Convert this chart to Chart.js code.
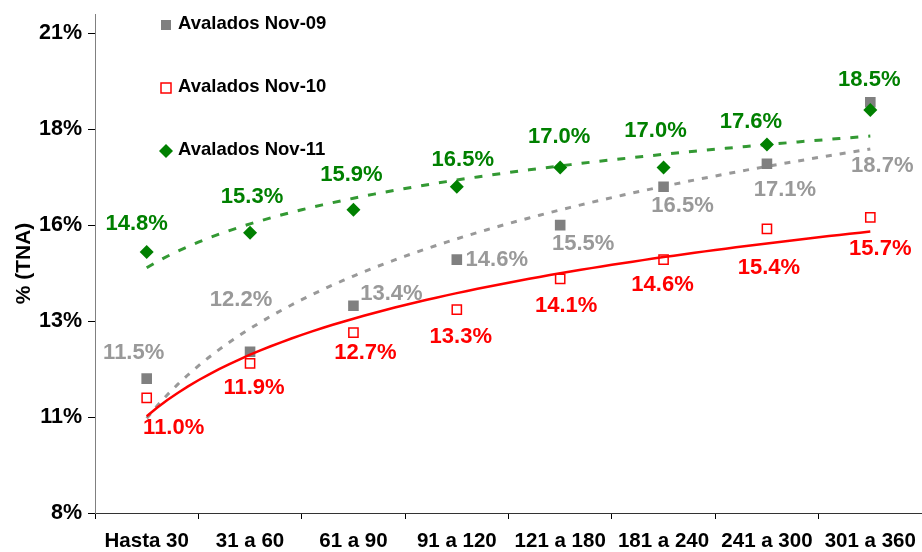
<!DOCTYPE html>
<html>
<head>
<meta charset="utf-8">
<script src="https://cdn.jsdelivr.net/npm/chart.js@4/dist/chart.umd.min.js"></script>
<style>
  html, body { margin: 0; padding: 0; background: #fff; }
  #wrap { width: 922px; height: 552px; }
</style>
</head>
<body>
<div id="wrap"><canvas id="chart-1" width="922" height="552"></canvas></div>
<script>
const plazos = ["Hasta 30", "31 a 60", "61 a 90", "91 a 120", "121 a 180", "181 a 240", "241 a 300", "301 a 360"];
const nov09 = [11.5, 12.2, 13.4, 14.6, 15.5, 16.5, 17.1, 18.7];
const nov10 = [11.0, 11.9, 12.7, 13.3, 14.1, 14.6, 15.4, 15.7];
const nov11 = [14.8, 15.3, 15.9, 16.5, 17.0, 17.0, 17.6, 18.5];
const yTicks = [8, 10.5, 13, 15.5, 18, 20.5];

const FONT = "'Liberation Sans', Arial, sans-serif";
Chart.defaults.font.family = FONT;
Chart.defaults.color = "#000";

// logarithmic trend (least squares on ln x), sampled finely so the curve is smooth
function logTrend(values) {
    const n = values.length;
    const lx = values.map((v, i) => Math.log(i + 1));
    const mx = lx.reduce((s, v) => s + v, 0) / n;
    const my = values.reduce((s, v) => s + v, 0) / n;
    let sxy = 0, sxx = 0;
    for (let i = 0; i < n; i++) {
        sxy += (lx[i] - mx) * (values[i] - my);
        sxx += (lx[i] - mx) * (lx[i] - mx);
    }
    const b = sxy / sxx, a = my - b * mx;
    const pts = [];
    for (let k = 0; k <= (n - 1) * 10; k++) {
        const x = 1 + k / 10;
        pts.push({ x: x, y: a + b * Math.log(x) });
    }
    return pts;
}

// label offsets (dx, dy) from each point, in px
const labelOffsets = {
    nov09: [[-13, -26], [-9, -52], [38, -12], [40, 0], [23, 19], [19, 19], [18, 26], [12, 64]],
    nov10: [[27, 30], [4, 25], [12, 20], [4, 27], [6, 27], [-1, 25], [2, 39], [10, 31]],
    nov11: [[-10, -28], [2, -36], [-2, -35], [6, -27], [-1, -31], [-8, -37], [-16, -23], [-1, -30]],
};

const valueLabels = {
    id: "valueLabels",
    afterDatasetsDraw(chart) {
        const ctx = chart.ctx;
        ctx.save();
        ctx.font = "bold 22px " + FONT;
        ctx.textAlign = "center";
        ctx.textBaseline = "middle";
        chart.data.datasets.forEach((ds, i) => {
            if (!ds.labelKey) return;
            const meta = chart.getDatasetMeta(i);
            const offs = labelOffsets[ds.labelKey];
            ctx.fillStyle = ds.labelColor;
            meta.data.forEach((pt, j) => {
                ctx.fillText(ds.data[j].toFixed(1) + "%", pt.x + offs[j][0], pt.y + offs[j][1]);
            });
        });
        ctx.restore();
    },
};

const seriesLegend = {
    id: "seriesLegend",
    afterDraw(chart) {
        const ctx = chart.ctx;
        const x = 166, tx = 178;
        const rows = [
            { y: 25, text: "Avalados Nov-09", kind: "square" },
            { y: 88, text: "Avalados Nov-10", kind: "open" },
            { y: 151, text: "Avalados Nov-11", kind: "diamond" },
        ];
        ctx.save();
        rows.forEach(r => {
            if (r.kind === "square") {
                ctx.fillStyle = "#808080";
                ctx.fillRect(x - 5, r.y - 5, 10, 10);
            } else if (r.kind === "open") {
                ctx.fillStyle = "#fff";
                ctx.strokeStyle = "#ff0000";
                ctx.lineWidth = 1.5;
                ctx.fillRect(x - 5, r.y - 5, 10, 10);
                ctx.strokeRect(x - 5, r.y - 5, 10, 10);
            } else {
                ctx.fillStyle = "#008000";
                ctx.beginPath();
                ctx.moveTo(x, r.y - 7);
                ctx.lineTo(x + 7, r.y);
                ctx.lineTo(x, r.y + 7);
                ctx.lineTo(x - 7, r.y);
                ctx.closePath();
                ctx.fill();
            }
            ctx.fillStyle = "#000";
            ctx.font = "bold 18.5px " + FONT;
            ctx.textAlign = "left";
            ctx.textBaseline = "middle";
            ctx.fillText(r.text, tx, r.y - 1);
        });
        ctx.restore();
    },
};

const ctx1 = document.getElementById("chart-1").getContext("2d");
const myChart = new Chart(ctx1, {
    type: "line",
    data: {
        labels: plazos,
        datasets: [
            {
                label: "Avalados Nov-11",
                data: nov11,
                showLine: false,
                pointStyle: "rectRot",
                pointRadius: 7,
                pointBackgroundColor: "#008000",
                pointBorderColor: "#008000",
                pointBorderWidth: 0,
                labelKey: "nov11",
                labelColor: "#008000",
                order: 1,
            },
            {
                label: "Avalados Nov-10",
                data: nov10,
                showLine: false,
                pointStyle: "rect",
                pointRadius: 6.5,
                pointBackgroundColor: "#fff",
                pointBorderColor: "#ff0000",
                pointBorderWidth: 1.5,
                labelKey: "nov10",
                labelColor: "#ff0000",
                order: 3,
            },
            {
                label: "Avalados Nov-09",
                data: nov09,
                showLine: false,
                pointStyle: "rect",
                pointRadius: 7.5,
                pointBackgroundColor: "#808080",
                pointBorderColor: "#808080",
                pointBorderWidth: 0,
                labelKey: "nov09",
                labelColor: "#999999",
                order: 4,
            },
            {
                label: "Log. (Avalados Nov-11)",
                data: logTrend(nov11),
                xAxisID: "xt",
                borderColor: "#339933",
                borderWidth: 3,
                borderDash: [8, 10],
                pointRadius: 0,
                fill: false,
                order: 2,
            },
            {
                label: "Log. (Avalados Nov-10)",
                data: logTrend(nov10),
                xAxisID: "xt",
                borderColor: "#ff0000",
                borderWidth: 2.5,
                pointRadius: 0,
                fill: false,
                order: 2,
            },
            {
                label: "Log. (Avalados Nov-09)",
                data: logTrend(nov09),
                xAxisID: "xt",
                borderColor: "#999999",
                borderWidth: 3,
                borderDash: [6, 8],
                pointRadius: 0,
                fill: false,
                order: 5,
            },
        ],
    },
    options: {
        responsive: false,
        animation: false,
        layout: { autoPadding: false, padding: { top: 14, right: -1, left: 0, bottom: 0 } },
        plugins: {
            legend: { display: false },
            tooltip: { enabled: false },
        },
        scales: {
            x: {
                type: "category",
                offset: true,
                grid: { offset: true, drawOnChartArea: false, drawTicks: true, tickLength: 6, color: "#000" },
                border: { display: true, color: "#333", width: 1 },
                ticks: { font: { size: 20.5, weight: "bold" }, color: "#000", padding: 10, maxRotation: 0, autoSkip: false },
                afterFit: s => { s.height = 39; s.paddingLeft = 0; s.paddingRight = 0; },
            },
            xt: {
                type: "linear",
                display: false,
                min: 0.5,
                max: 8.5,
            },
            y: {
                min: 8,
                max: 21,
                afterBuildTicks: s => { s.ticks = yTicks.map(v => ({ value: v })); },
                grid: { drawOnChartArea: false, drawTicks: true, tickLength: 7, color: "#000" },
                border: { display: true, color: "#808080", width: 1 },
                ticks: {
                    font: { size: 21.5, weight: "bold" },
                    color: "#000",
                    padding: 6,
                    callback: v => Math.round(v) + "%",
                },
                title: {
                    display: true,
                    text: "% (TNA)",
                    font: { size: 21, weight: "bold" },
                    color: "#000",
                    padding: { top: 12, bottom: 0 },
                },
                afterFit: s => { s.width = 95; s.paddingTop = 0; s.paddingBottom = 0; },
            },
        },
    },
    plugins: [valueLabels, seriesLegend],
});
</script>
</body>
</html>
